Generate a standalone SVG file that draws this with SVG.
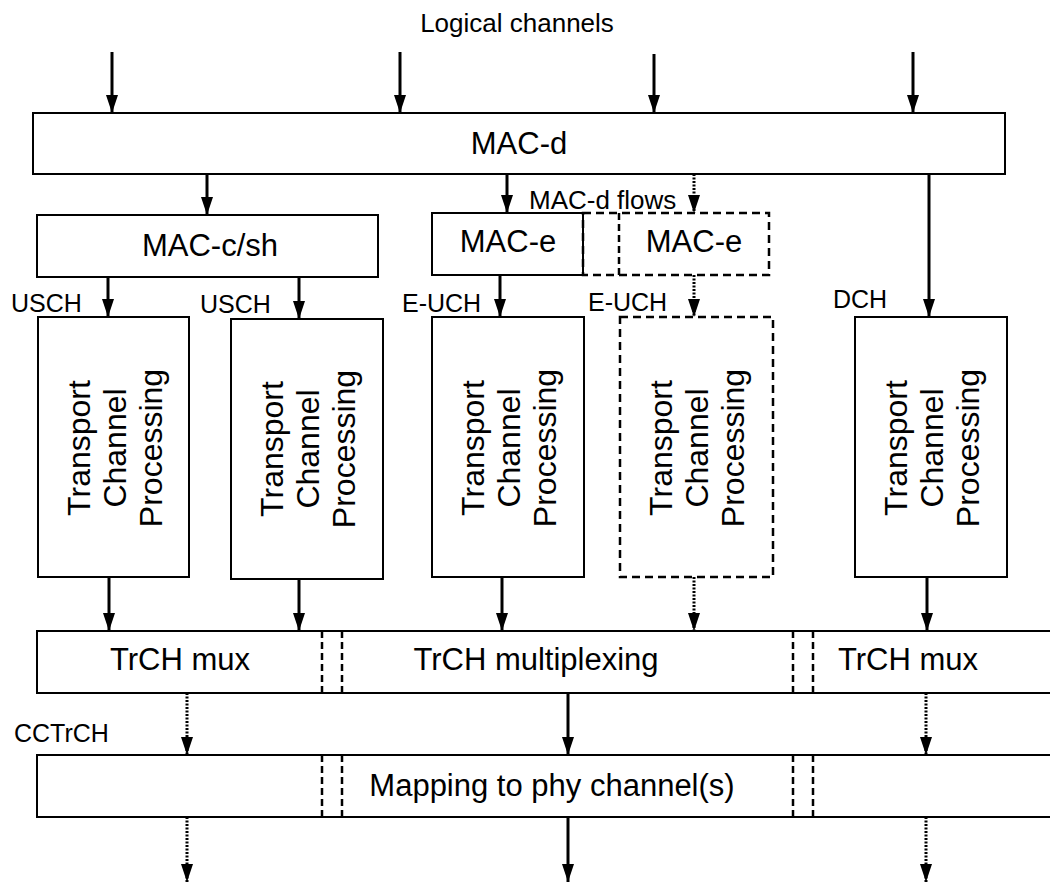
<svg xmlns="http://www.w3.org/2000/svg" width="1050" height="882" viewBox="0 0 1050 882">
<defs>
<marker id="ah" viewBox="0 0 18 12" refX="18" refY="6" markerWidth="18" markerHeight="12" markerUnits="userSpaceOnUse" orient="auto">
<path d="M0,0 L18,6 L0,12 Z" fill="#000"/>
</marker>
</defs>
<style>
.box{fill:#fff;stroke:#000;stroke-width:2}
.dbox{fill:none;stroke:#000;stroke-width:2.5;stroke-dasharray:8 5}
.div{stroke:#000;stroke-width:2.5;stroke-dasharray:7 4}
.a{stroke:#000;stroke-width:3;fill:none;marker-end:url(#ah)}
.d{stroke:#000;stroke-width:3;fill:none;stroke-dasharray:2 1.5;marker-end:url(#ah)}
text{font-family:"Liberation Sans",Arial,sans-serif;fill:#000}
.big{font-size:31px;text-anchor:middle}
.lbl{font-size:25px}
.tcp{font-size:32px;text-anchor:middle}
</style>
<rect width="1050" height="882" fill="#fff"/>
<text x="517" y="32" class="lbl" text-anchor="middle" style="font-size:26px">Logical channels</text>

<g id="macd"><rect class="box" x="33" y="113" width="972" height="61"/><text class="big" x="519" y="154">MAC-d</text></g>
<g id="macch"><rect class="box" x="37" y="215" width="341" height="62"/><text class="big" x="210" y="256">MAC-c/sh</text></g>
<g id="mace1"><rect class="box" x="432" y="213" width="151" height="62"/><text class="big" x="508" y="252">MAC-e</text></g>
<g id="mace2"><rect class="dbox" x="583" y="213" width="186" height="62"/><line class="div" x1="619" y1="213" x2="619" y2="275"/><text class="big" x="694" y="252">MAC-e</text></g>

<g id="tcp1"><rect class="box" x="38" y="317" width="151" height="260"/><text class="tcp" transform="translate(113.5,448) rotate(-90)"><tspan x="0" y="-24">Transport</tspan><tspan x="0" y="12">Channel</tspan><tspan x="0" y="48">Processing</tspan></text></g>
<g id="tcp2"><rect class="box" x="231" y="319" width="152" height="260"/><text class="tcp" transform="translate(307,449) rotate(-90)"><tspan x="0" y="-24">Transport</tspan><tspan x="0" y="12">Channel</tspan><tspan x="0" y="48">Processing</tspan></text></g>
<g id="tcp3"><rect class="box" x="432" y="317" width="152" height="260"/><text class="tcp" transform="translate(508,448) rotate(-90)"><tspan x="0" y="-24">Transport</tspan><tspan x="0" y="12">Channel</tspan><tspan x="0" y="48">Processing</tspan></text></g>
<g id="tcp4"><rect class="dbox" x="620" y="317" width="153" height="260"/><text class="tcp" transform="translate(696,448) rotate(-90)"><tspan x="0" y="-24">Transport</tspan><tspan x="0" y="12">Channel</tspan><tspan x="0" y="48">Processing</tspan></text></g>
<g id="tcp5"><rect class="box" x="855" y="317" width="152" height="260"/><text class="tcp" transform="translate(931,448) rotate(-90)"><tspan x="0" y="-24">Transport</tspan><tspan x="0" y="12">Channel</tspan><tspan x="0" y="48">Processing</tspan></text></g>

<g id="mux"><rect class="box" x="37" y="631" width="1030" height="62"/>
<line class="div" x1="322" y1="631" x2="322" y2="693"/><line class="div" x1="342" y1="631" x2="342" y2="693"/>
<line class="div" x1="793" y1="631" x2="793" y2="693"/><line class="div" x1="813" y1="631" x2="813" y2="693"/>
<text class="big" x="180" y="670">TrCH mux</text><text class="big" x="536" y="670">TrCH multiplexing</text><text class="big" x="908" y="670">TrCH mux</text></g>

<g id="map"><rect class="box" x="37" y="755" width="1030" height="62"/>
<line class="div" x1="322" y1="755" x2="322" y2="817"/><line class="div" x1="342" y1="755" x2="342" y2="817"/>
<line class="div" x1="793" y1="755" x2="793" y2="817"/><line class="div" x1="813" y1="755" x2="813" y2="817"/>
<text class="big" x="552" y="796">Mapping to phy channel(s)</text></g>

<g id="labels">
<text class="lbl" x="529" y="209" style="font-size:26px">MAC-d flows</text>
<text class="lbl" x="11" y="312">USCH</text>
<text class="lbl" x="200" y="313">USCH</text>
<text class="lbl" x="402" y="312">E-UCH</text>
<text class="lbl" x="588" y="311">E-UCH</text>
<text class="lbl" x="833" y="308">DCH</text>
<text class="lbl" x="14" y="742">CCTrCH</text>
</g>

<g id="connectors">
<line class="a" x1="112" y1="52" x2="112" y2="113"/>
<line class="a" x1="400" y1="52" x2="400" y2="113"/>
<line class="a" x1="654" y1="54" x2="654" y2="113"/>
<line class="a" x1="913" y1="52" x2="913" y2="113"/>
<line class="a" x1="207" y1="174" x2="207" y2="215"/>
<line class="a" x1="507" y1="174" x2="507" y2="213"/>
<line class="d" x1="694" y1="174" x2="694" y2="213"/>
<line class="a" x1="929" y1="174" x2="929" y2="317"/>
<line class="a" x1="108" y1="277" x2="108" y2="317"/>
<line class="a" x1="299" y1="277" x2="299" y2="319"/>
<line class="a" x1="500" y1="275" x2="500" y2="317"/>
<line class="d" x1="694" y1="275" x2="694" y2="317"/>
<line class="a" x1="109" y1="577" x2="109" y2="631"/>
<line class="a" x1="299" y1="579" x2="299" y2="631"/>
<line class="a" x1="502" y1="577" x2="502" y2="631"/>
<line class="d" x1="694" y1="577" x2="694" y2="631"/>
<line class="a" x1="927" y1="577" x2="927" y2="631"/>
<line class="d" x1="187" y1="693" x2="187" y2="755"/>
<line class="a" x1="568" y1="693" x2="568" y2="755"/>
<line class="d" x1="926" y1="693" x2="926" y2="755"/>
<line class="d" x1="187" y1="817" x2="187" y2="882"/>
<line class="a" x1="568" y1="817" x2="568" y2="882"/>
<line class="d" x1="926" y1="817" x2="926" y2="882"/>
</g>
</svg>
